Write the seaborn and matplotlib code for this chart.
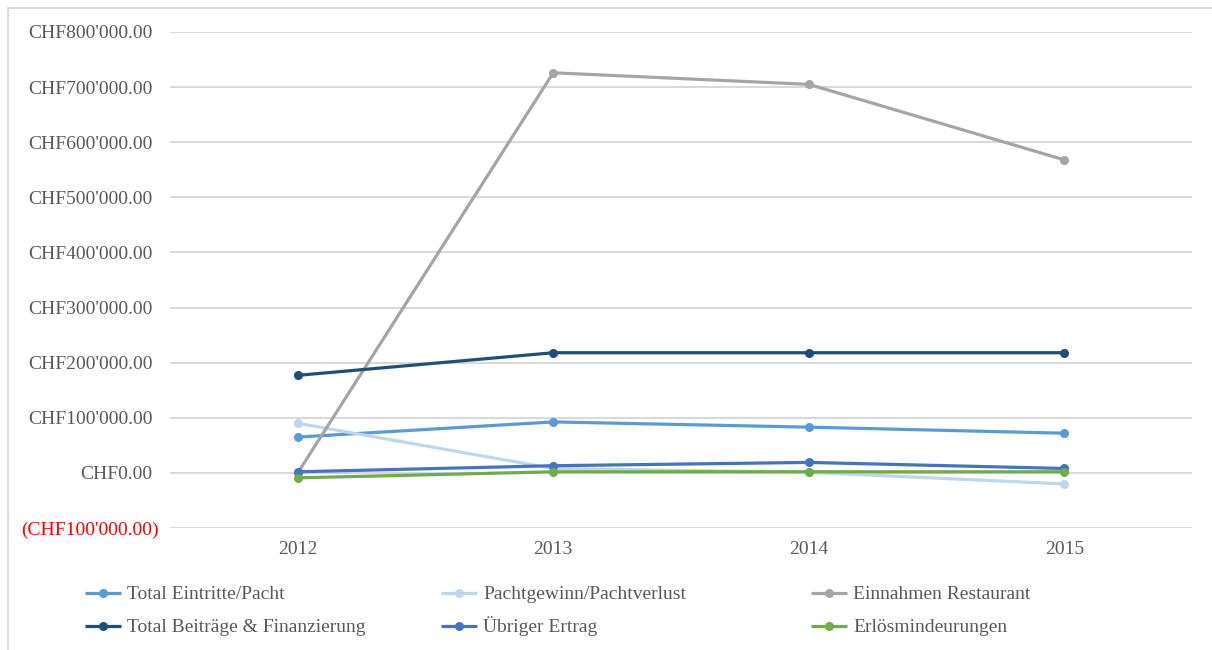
import matplotlib
matplotlib.use("Agg")
import matplotlib.pyplot as plt
import matplotlib.transforms as mtransforms
from matplotlib.lines import Line2D
import pandas as pd
import seaborn as sns

years = ["2012", "2013", "2014", "2015"]

eintritte_pacht = [65000, 92500, 83000, 72000]
pachtgewinn = [90000, 8000, 1000, -20000]
einnahmen_restaurant = [0, 726000, 705000, 568000]
beitraege_finanzierung = [177000, 218000, 218000, 218000]
uebriger_ertrag = [2000, 13000, 19000, 8000]
erloesminderungen = [-9000, 2000, 2000, 2000]

series_names = [
    "Total Eintritte/Pacht",
    "Pachtgewinn/Pachtverlust",
    "Einnahmen Restaurant",
    "Total Beiträge & Finanzierung",
    "Übriger Ertrag",
    "Erlösmindeurungen",
]
series_values = [
    eintritte_pacht,
    pachtgewinn,
    einnahmen_restaurant,
    beitraege_finanzierung,
    uebriger_ertrag,
    erloesminderungen,
]
series_colors = ["#5B9BD5", "#BDD7EE", "#A5A5A5", "#1F4E79", "#4472C4", "#70AD47"]

y_ticks = [-100000, 0, 100000, 200000, 300000, 400000, 500000, 600000, 700000, 800000]

rows = []
for name, vals in zip(series_names, series_values):
    for yr, v in zip(years, vals):
        rows.append({"Jahr": yr, "Betrag": v, "Serie": name})
df = pd.DataFrame(rows)

sns.set_theme(style="white")
plt.rcParams["font.family"] = ["Liberation Serif", "DejaVu Serif"]
text_color = "#595959"
grid_color = "#D9D9D9"
fs = 14
W, H = 1212, 650

fig = plt.figure(figsize=(W / 100, H / 100), dpi=100)
ax = fig.add_axes([170 / W, 1 - 528 / H, (1192 - 170) / W, (528 - 32) / H])

palette = dict(zip(series_names, series_colors))
sns.lineplot(
    data=df, x="Jahr", y="Betrag", hue="Serie", hue_order=series_names,
    palette=palette, marker="o", markersize=6.5, markeredgewidth=0,
    linewidth=2.3, legend=False, ax=ax, sort=False,
)

ax.set_xlim(-0.5, 3.5)
ax.set_ylim(-100000, 800000)
ax.set_yticks(y_ticks)
ax.tick_params(axis="y", length=0, pad=12)
ax.tick_params(axis="x", length=0, pad=9)


def chf(v):
    s = f"{abs(v):,.2f}".replace(",", "'")
    return f"(CHF{s})" if v < 0 else f"CHF{s}"


ax.set_yticklabels([chf(v) for v in y_ticks])
shift_pos = mtransforms.ScaledTranslation(-0.5 / 100, 0, fig.dpi_scale_trans)
shift_neg = mtransforms.ScaledTranslation(5 / 100, 0, fig.dpi_scale_trans)
for lbl, v in zip(ax.get_yticklabels(), y_ticks):
    lbl.set_color("#FF0000" if v < 0 else text_color)
    lbl.set_fontsize(fs)
    # accounting format: the closing parenthesis hangs past the number column
    lbl.set_transform(lbl.get_transform() + (shift_neg if v < 0 else shift_pos))
for lbl in ax.get_xticklabels():
    lbl.set_color(text_color)
    lbl.set_fontsize(fs)

ax.set_xlabel("")
ax.set_ylabel("")
ax.yaxis.grid(True, color=grid_color, linewidth=1.5)
ax.set_axisbelow(True)
for sp in ax.spines.values():
    sp.set_visible(False)

# outer chart frame (left and top edges)
fig.add_artist(Line2D([8 / W, 8 / W], [0, 1 - 8 / H], transform=fig.transFigure,
                      color=grid_color, linewidth=1.5))
fig.add_artist(Line2D([8 / W, 1], [1 - 8 / H, 1 - 8 / H], transform=fig.transFigure,
                      color=grid_color, linewidth=1.5))

# legend: three equally spaced columns, two rows
columns = [[0, 3], [1, 4], [2, 5]]
column_x = [85, 441, 811]
row_y = [593, 626]
for idxs, x0 in zip(columns, column_x):
    for i, y0 in zip(idxs, row_y):
        yf = 1 - y0 / H
        fig.add_artist(Line2D([x0 / W, (x0 + 36) / W], [yf, yf], transform=fig.transFigure,
                              color=series_colors[i], linewidth=2.3, solid_capstyle="butt"))
        fig.add_artist(Line2D([(x0 + 18) / W], [yf], transform=fig.transFigure,
                              color=series_colors[i], marker="o", markersize=6.5,
                              markeredgewidth=0, linestyle="none"))
        fig.text((x0 + 42) / W, 1 - (y0 + 6) / H, series_names[i], fontsize=fs,
                 color=text_color, ha="left", va="baseline")

fig.savefig("out.png", dpi=100, facecolor="white")
